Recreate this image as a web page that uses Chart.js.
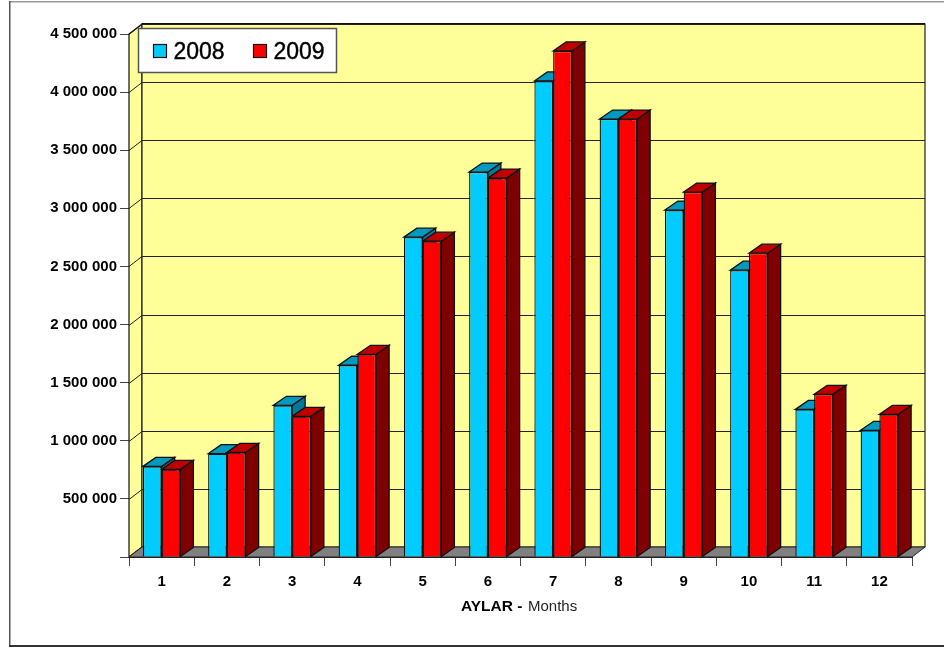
<!DOCTYPE html>
<html>
<head>
<meta charset="utf-8">
<title>AYLAR - Months</title>
<script src="https://cdn.jsdelivr.net/npm/chart.js@4"></script>
<style>
  html, body { margin: 0; padding: 0; background: #fff; }
  canvas { display: block; }
</style>
</head>
<body>
<canvas id="monthsChart" width="944" height="649"></canvas>
<script>
const months = ["1", "2", "3", "4", "5", "6", "7", "8", "9", "10", "11", "12"];
const values2008 = [780000, 889000, 1305000, 1650000, 2752000, 3312000, 4096000, 3768000, 2985000, 2468000, 1270000, 1090000];
const values2009 = [754000, 900000, 1210000, 1744000, 2717000, 3260000, 4354000, 3768000, 3140000, 2614000, 1400000, 1227000];
const yTickLabels = ["", "500 000", "1 000 000", "1 500 000", "2 000 000", "2 500 000", "3 000 000", "3 500 000", "4 000 000", "4 500 000"];

const FONT = '"Liberation Sans", Arial, sans-serif';
// depth of the fake 3D box
const DX = 13;
const DY = -10;
const BAR_DY = -9;

function poly(ctx, pts, fill, stroke, lw) {
  ctx.beginPath();
  pts.forEach((p, i) => (i ? ctx.lineTo(p[0], p[1]) : ctx.moveTo(p[0], p[1])));
  ctx.closePath();
  if (fill) {
    ctx.fillStyle = fill;
    ctx.fill();
  }
  if (stroke) {
    ctx.strokeStyle = stroke;
    ctx.lineWidth = lw || 1;
    ctx.stroke();
  }
}

// walls, floor and gridlines behind the bars
const boxPlugin = {
  id: "box",
  beforeDatasetsDraw(chart) {
    const { ctx, chartArea: a, scales } = chart;
    ctx.save();
    poly(ctx, [[a.left, a.top], [a.left + DX, a.top + DY], [a.left + DX, a.bottom + DY], [a.left, a.bottom]], "#FFFF99", "#111", 1.2);
    poly(ctx, [[a.left + DX, a.top + DY], [a.right + DX, a.top + DY], [a.right + DX, a.bottom + DY], [a.left + DX, a.bottom + DY]], "#FFFF99", "#222", 1.2);
    poly(ctx, [[a.left, a.bottom], [a.left + DX, a.bottom + DY], [a.right + DX, a.bottom + DY], [a.right, a.bottom]], "#808080", "#222", 1);

    // top edge of the wall is heavier
    ctx.strokeStyle = "#111";
    ctx.lineWidth = 1.8;
    ctx.beginPath();
    ctx.moveTo(a.left + DX, a.top + DY);
    ctx.lineTo(a.right + DX, a.top + DY);
    ctx.stroke();

    ctx.strokeStyle = "#222";
    ctx.lineWidth = 1;
    scales.y.ticks.forEach((t) => {
      if (!t.value) return;
      const y = Math.round(scales.y.getPixelForValue(t.value)) + 0.5;
      ctx.beginPath();
      ctx.moveTo(a.left, y);
      ctx.lineTo(a.left + DX, y + DY);
      ctx.lineTo(a.right + DX, y + DY);
      ctx.stroke();
    });

    // top and side faces of each bar; the front faces come from the library
    chart.data.datasets.forEach((ds, di) => {
      chart.getDatasetMeta(di).data.forEach((bar) => {
        const l = bar.x - bar.width / 2;
        const r = bar.x + bar.width / 2;
        const t = bar.y;
        const b = bar.base;
        poly(ctx, [[r, t], [r + DX, t + BAR_DY], [r + DX, b + BAR_DY], [r, b]], ds.sideColor, "#111", 1.3);
        poly(ctx, [[l, t], [l + DX, t + BAR_DY], [r + DX, t + BAR_DY], [r, t]], ds.topColor, "#111", 1.3);
      });
    });
    ctx.restore();
  },
};

// frame, legend box and axis caption
const decorPlugin = {
  id: "decor",
  afterDraw(chart) {
    const { ctx } = chart;
    ctx.save();
    ctx.fillStyle = "#999";
    ctx.fillRect(9, 1, 935, 1.5);
    ctx.fillStyle = "#555";
    ctx.fillRect(9, 1, 1.5, 645);
    ctx.fillStyle = "#333";
    ctx.fillRect(9, 645, 935, 2);

    ctx.fillStyle = "#fff";
    ctx.strokeStyle = "#555";
    ctx.lineWidth = 1.5;
    ctx.fillRect(138.5, 28.5, 198, 44);
    ctx.strokeRect(138.5, 28.5, 198, 44);

    ctx.textBaseline = "middle";
    ctx.textAlign = "left";
    const swatchX = [153.5, 253.5];
    chart.data.datasets.forEach((ds, i) => {
      ctx.fillStyle = ds.backgroundColor;
      ctx.strokeStyle = "#111";
      ctx.lineWidth = 1.2;
      ctx.fillRect(swatchX[i], 44.5, 13, 13);
      ctx.strokeRect(swatchX[i], 44.5, 13, 13);
      ctx.fillStyle = "#000";
      ctx.strokeStyle = "#000";
      ctx.lineWidth = 0.4;
      ctx.font = "23px " + FONT;
      ctx.fillText(ds.label, swatchX[i] + 20, 52.5);
      ctx.strokeText(ds.label, swatchX[i] + 20, 52.5);
    });

    ctx.font = "bold 15.5px " + FONT;
    ctx.fillStyle = "#000";
    ctx.fillText("AYLAR -", 461, 607);
    ctx.font = "15px " + FONT;
    ctx.fillStyle = "#222";
    ctx.fillText("Months", 528, 607);
    ctx.restore();
  },
};

new Chart(document.getElementById("monthsChart"), {
  type: "bar",
  data: {
    labels: months,
    datasets: [
      { label: "2008", data: values2008, backgroundColor: "#00CCFF", topColor: "#0099BF", sideColor: "#00799A", borderColor: "#111", borderWidth: 1.3 },
      { label: "2009", data: values2009, backgroundColor: "#FF0000", topColor: "#BF0000", sideColor: "#7F0000", borderColor: "#111", borderWidth: 1.3 },
    ],
  },
  options: {
    responsive: false,
    animation: false,
    layout: { padding: { top: 34, right: 32, left: 0, bottom: 0 } },
    plugins: { legend: { display: false }, tooltip: { enabled: false } },
    datasets: { bar: { barPercentage: 1, categoryPercentage: 0.575 } },
    scales: {
      x: {
        afterFit: (s) => { s.height = 92; },
        border: { color: "#222", width: 1 },
        grid: { drawOnChartArea: false, tickLength: 9, tickColor: "#444" },
        ticks: { color: "#000", font: { family: FONT, size: 15, weight: "bold" }, padding: 7, maxRotation: 0 },
      },
      y: {
        min: 0,
        max: 4500000,
        afterFit: (s) => { s.width = 129; },
        border: { color: "#222", width: 1 },
        grid: { drawOnChartArea: false, tickLength: 9, tickColor: "#444" },
        ticks: {
          stepSize: 500000,
          color: "#000",
          padding: 3,
          font: { family: FONT, size: 15, weight: "bold" },
          callback: (v, i) => yTickLabels[i],
        },
      },
    },
  },
  plugins: [boxPlugin, decorPlugin],
});
</script>
</body>
</html>
